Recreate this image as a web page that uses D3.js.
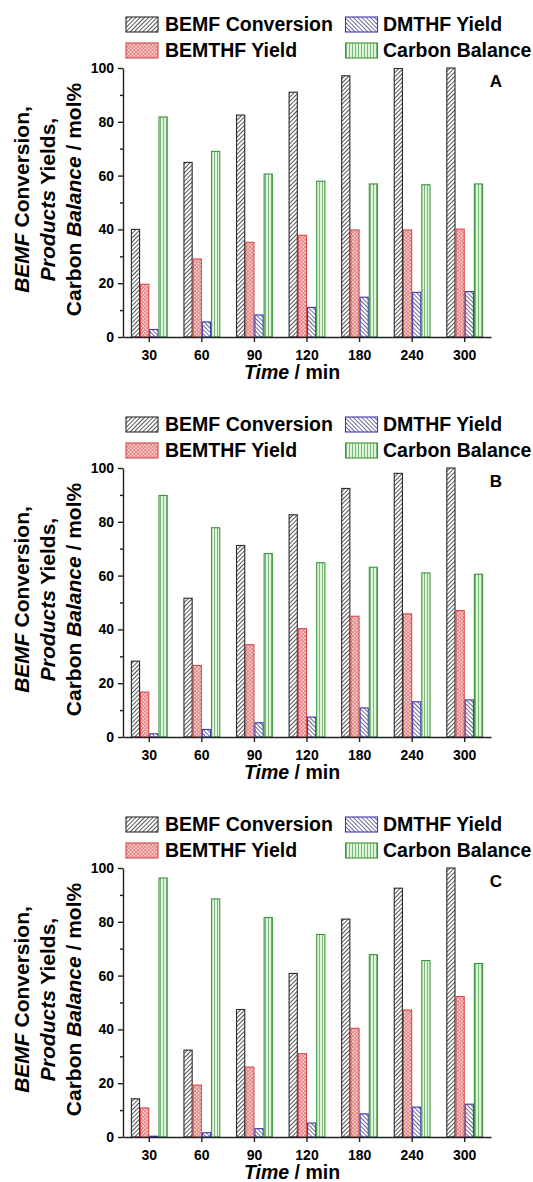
<!DOCTYPE html>
<html>
<head>
<meta charset="utf-8">
<script src="https://cdn.jsdelivr.net/npm/d3@7"></script>
<style>
  html, body { margin: 0; padding: 0; background: #fff; }
  svg { display: block; }
  text { font-family: "Liberation Sans", Arial, sans-serif; font-weight: bold; fill: #000; }
</style>
</head>
<body>
<svg id="chart" width="533" height="1182"></svg>
<script>
// ---- data ----
const categories = ["30", "60", "90", "120", "180", "240", "300"];
const seriesNames = ["BEMF Conversion", "BEMTHF Yield", "DMTHF Yield", "Carbon Balance"];
const yTicks = [0, 20, 40, 60, 80, 100];
const yMinorTicks = [10, 30, 50, 70, 90];
const panelLabels = ["A", "B", "C"];

const bemfA   = [40.0, 64.9, 82.5, 91.0, 97.1, 99.8, 100.0];
const bemthfA = [19.6, 29.0, 35.2, 37.8, 39.8, 39.8, 40.1];
const dmthfA  = [2.8, 5.6, 8.2, 11.0, 14.8, 16.6, 16.9];
const carbonA = [81.8, 69.0, 60.6, 57.9, 56.9, 56.6, 56.9];

const bemfB   = [28.2, 51.6, 71.2, 82.6, 92.4, 98.0, 100.0];
const bemthfB = [16.7, 26.6, 34.3, 40.3, 44.9, 45.8, 47.0];
const dmthfB  = [1.2, 2.8, 5.3, 7.4, 10.8, 13.1, 13.8];
const carbonB = [89.8, 77.8, 68.2, 64.8, 63.1, 61.0, 60.5];

const bemfC   = [14.2, 32.3, 47.4, 60.8, 81.0, 92.5, 100.0];
const bemthfC = [10.8, 19.3, 26.0, 31.0, 40.4, 47.2, 52.2];
const dmthfC  = [0.3, 1.6, 3.1, 5.2, 8.6, 11.1, 12.2];
const carbonC = [96.3, 88.5, 81.6, 75.3, 67.8, 65.6, 64.5];

const panelData = [
  [bemfA, bemthfA, dmthfA, carbonA],
  [bemfB, bemthfB, dmthfB, carbonB],
  [bemfC, bemthfC, dmthfC, carbonC]
];

// ---- styling ----
const strokeColors = ["#2a2a2a", "#d84848", "#3a3aa8", "#3a963a"];
const patternIds = ["pBemf", "pBemthf", "pDmthf", "pCarbon"];

const svg = d3.select("#chart");
const defs = svg.append("defs");

// BEMF: black "/" hatch
let p = defs.append("pattern").attr("id", "pBemf").attr("patternUnits", "userSpaceOnUse")
  .attr("width", 3).attr("height", 3).attr("patternTransform", "rotate(45)");
p.append("rect").attr("width", 3).attr("height", 3).attr("fill", "#fff");
p.append("line").attr("x1", 0.5).attr("y1", 0).attr("x2", 0.5).attr("y2", 3)
  .attr("stroke", "#555").attr("stroke-width", 1);

// BEMTHF: red crosshatch on pink
p = defs.append("pattern").attr("id", "pBemthf").attr("patternUnits", "userSpaceOnUse")
  .attr("width", 2.6).attr("height", 2.6).attr("patternTransform", "rotate(45)");
p.append("rect").attr("width", 2.6).attr("height", 2.6).attr("fill", "#f6d2d2");
p.append("line").attr("x1", 0.4).attr("y1", 0).attr("x2", 0.4).attr("y2", 2.6)
  .attr("stroke", "#e07878").attr("stroke-width", 0.8);
p.append("line").attr("x1", 0).attr("y1", 0.4).attr("x2", 2.6).attr("y2", 0.4)
  .attr("stroke", "#e07878").attr("stroke-width", 0.8);

// DMTHF: blue-gray "\" hatch
p = defs.append("pattern").attr("id", "pDmthf").attr("patternUnits", "userSpaceOnUse")
  .attr("width", 3).attr("height", 3).attr("patternTransform", "rotate(-45)");
p.append("rect").attr("width", 3).attr("height", 3).attr("fill", "#fff");
p.append("line").attr("x1", 0.5).attr("y1", 0).attr("x2", 0.5).attr("y2", 3)
  .attr("stroke", "#6a6a9a").attr("stroke-width", 1);

// Carbon: green vertical lines on light green
p = defs.append("pattern").attr("id", "pCarbon").attr("patternUnits", "userSpaceOnUse")
  .attr("width", 3).attr("height", 3);
p.append("rect").attr("width", 3).attr("height", 3).attr("fill", "#e4f2e0");
p.append("line").attr("x1", 1.5).attr("y1", 0).attr("x2", 1.5).attr("y2", 3)
  .attr("stroke", "#6cb46c").attr("stroke-width", 0.9);

// ---- layout ----
const plotLeft = 123, plotRight = 491;
const plotTop = 68, plotBottom = 337;
const panelStep = 400;
const legendFont = 19.5;

const x = d3.scaleBand().domain(categories).range([plotLeft, plotRight]).padding(0);
const xInner = d3.scaleBand().domain(d3.range(seriesNames.length))
  .range([x.bandwidth() * 0.15, x.bandwidth() * 0.85]).padding(0);

panelData.forEach((series, pi) => {
  const off = pi * panelStep;
  const g = svg.append("g").attr("transform", `translate(0,${off})`);
  const y = d3.scaleLinear().domain([0, 100]).range([plotBottom, plotTop]);

  // bars
  series.forEach((vals, si) => {
    g.append("g").selectAll("rect").data(vals).join("rect")
      .attr("x", (d, i) => x(categories[i]) + xInner(si) + 0.5)
      .attr("y", d => y(d))
      .attr("width", xInner.bandwidth() - 1)
      .attr("height", d => y(0) - y(d))
      .attr("fill", `url(#${patternIds[si]})`)
      .attr("stroke", strokeColors[si])
      .attr("stroke-width", 1.1);
  });

  // y axis
  const yAxis = d3.axisLeft(y).tickValues(yTicks).tickSize(5).tickSizeOuter(0).tickPadding(4);
  const ya = g.append("g").attr("transform", `translate(${plotLeft},0)`).call(yAxis);
  const yMinor = d3.axisLeft(y).tickValues(yMinorTicks).tickSize(3).tickFormat("").tickSizeOuter(0);
  const ym = g.append("g").attr("transform", `translate(${plotLeft},0)`).call(yMinor);
  ym.select(".domain").remove();

  // x axis
  const xAxis = d3.axisBottom(x).tickSize(5).tickSizeOuter(0).tickPadding(8);
  const xa = g.append("g").attr("transform", `translate(0,${plotBottom})`).call(xAxis);

  [ya, ym, xa].forEach(a => {
    a.selectAll("path, line").attr("stroke", "#222").attr("stroke-width", 1.4);
    a.selectAll("text").style("font-size", "14px").style("font-weight", "bold")
      .style("font-family", "'Liberation Sans', Arial, sans-serif").attr("fill", "#000");
  });

  // x axis title
  const xt = g.append("text").attr("x", 292).attr("y", 379).attr("text-anchor", "middle")
    .style("font-size", legendFont + "px");
  xt.append("tspan").style("font-style", "italic").text("Time");
  xt.append("tspan").text(" / min");

  // y axis title (3 lines)
  const cy = (plotTop + plotBottom) / 2 - 3;
  const lines = [
    [["BEMF", true], [" Conversion,", false]],
    [["Products", true], [" Yields,", false]],
    [["Carbon ", false], ["Balance", true], [" / mol%", false]]
  ];
  const baseX = [29, 55, 81];
  lines.forEach((parts, li) => {
    const t = g.append("text")
      .attr("transform", `translate(${baseX[li]},${cy}) rotate(-90)`)
      .attr("text-anchor", "middle")
      .style("font-size", "21px");
    parts.forEach(([s, it]) => t.append("tspan").style("font-style", it ? "italic" : "normal").text(s));
  });

  // panel label
  g.append("text").attr("x", 496).attr("y", 87).attr("text-anchor", "middle")
    .style("font-size", "17px").text(panelLabels[pi]);

  // legend
  const legPos = [[126, 17, 165, 31], [126, 43, 165, 57], [345.5, 17, 383, 31], [345.5, 43, 383, 57]];
  seriesNames.forEach((name, si) => {
    const [sx, sy, tx, ty] = legPos[si];
    g.append("rect").attr("x", sx).attr("y", sy).attr("width", 32).attr("height", 15)
      .attr("fill", `url(#${patternIds[si]})`).attr("stroke", strokeColors[si]).attr("stroke-width", 1.1);
    g.append("text").attr("x", tx).attr("y", ty).style("font-size", legendFont + "px").text(name);
  });
});
</script>
</body>
</html>
